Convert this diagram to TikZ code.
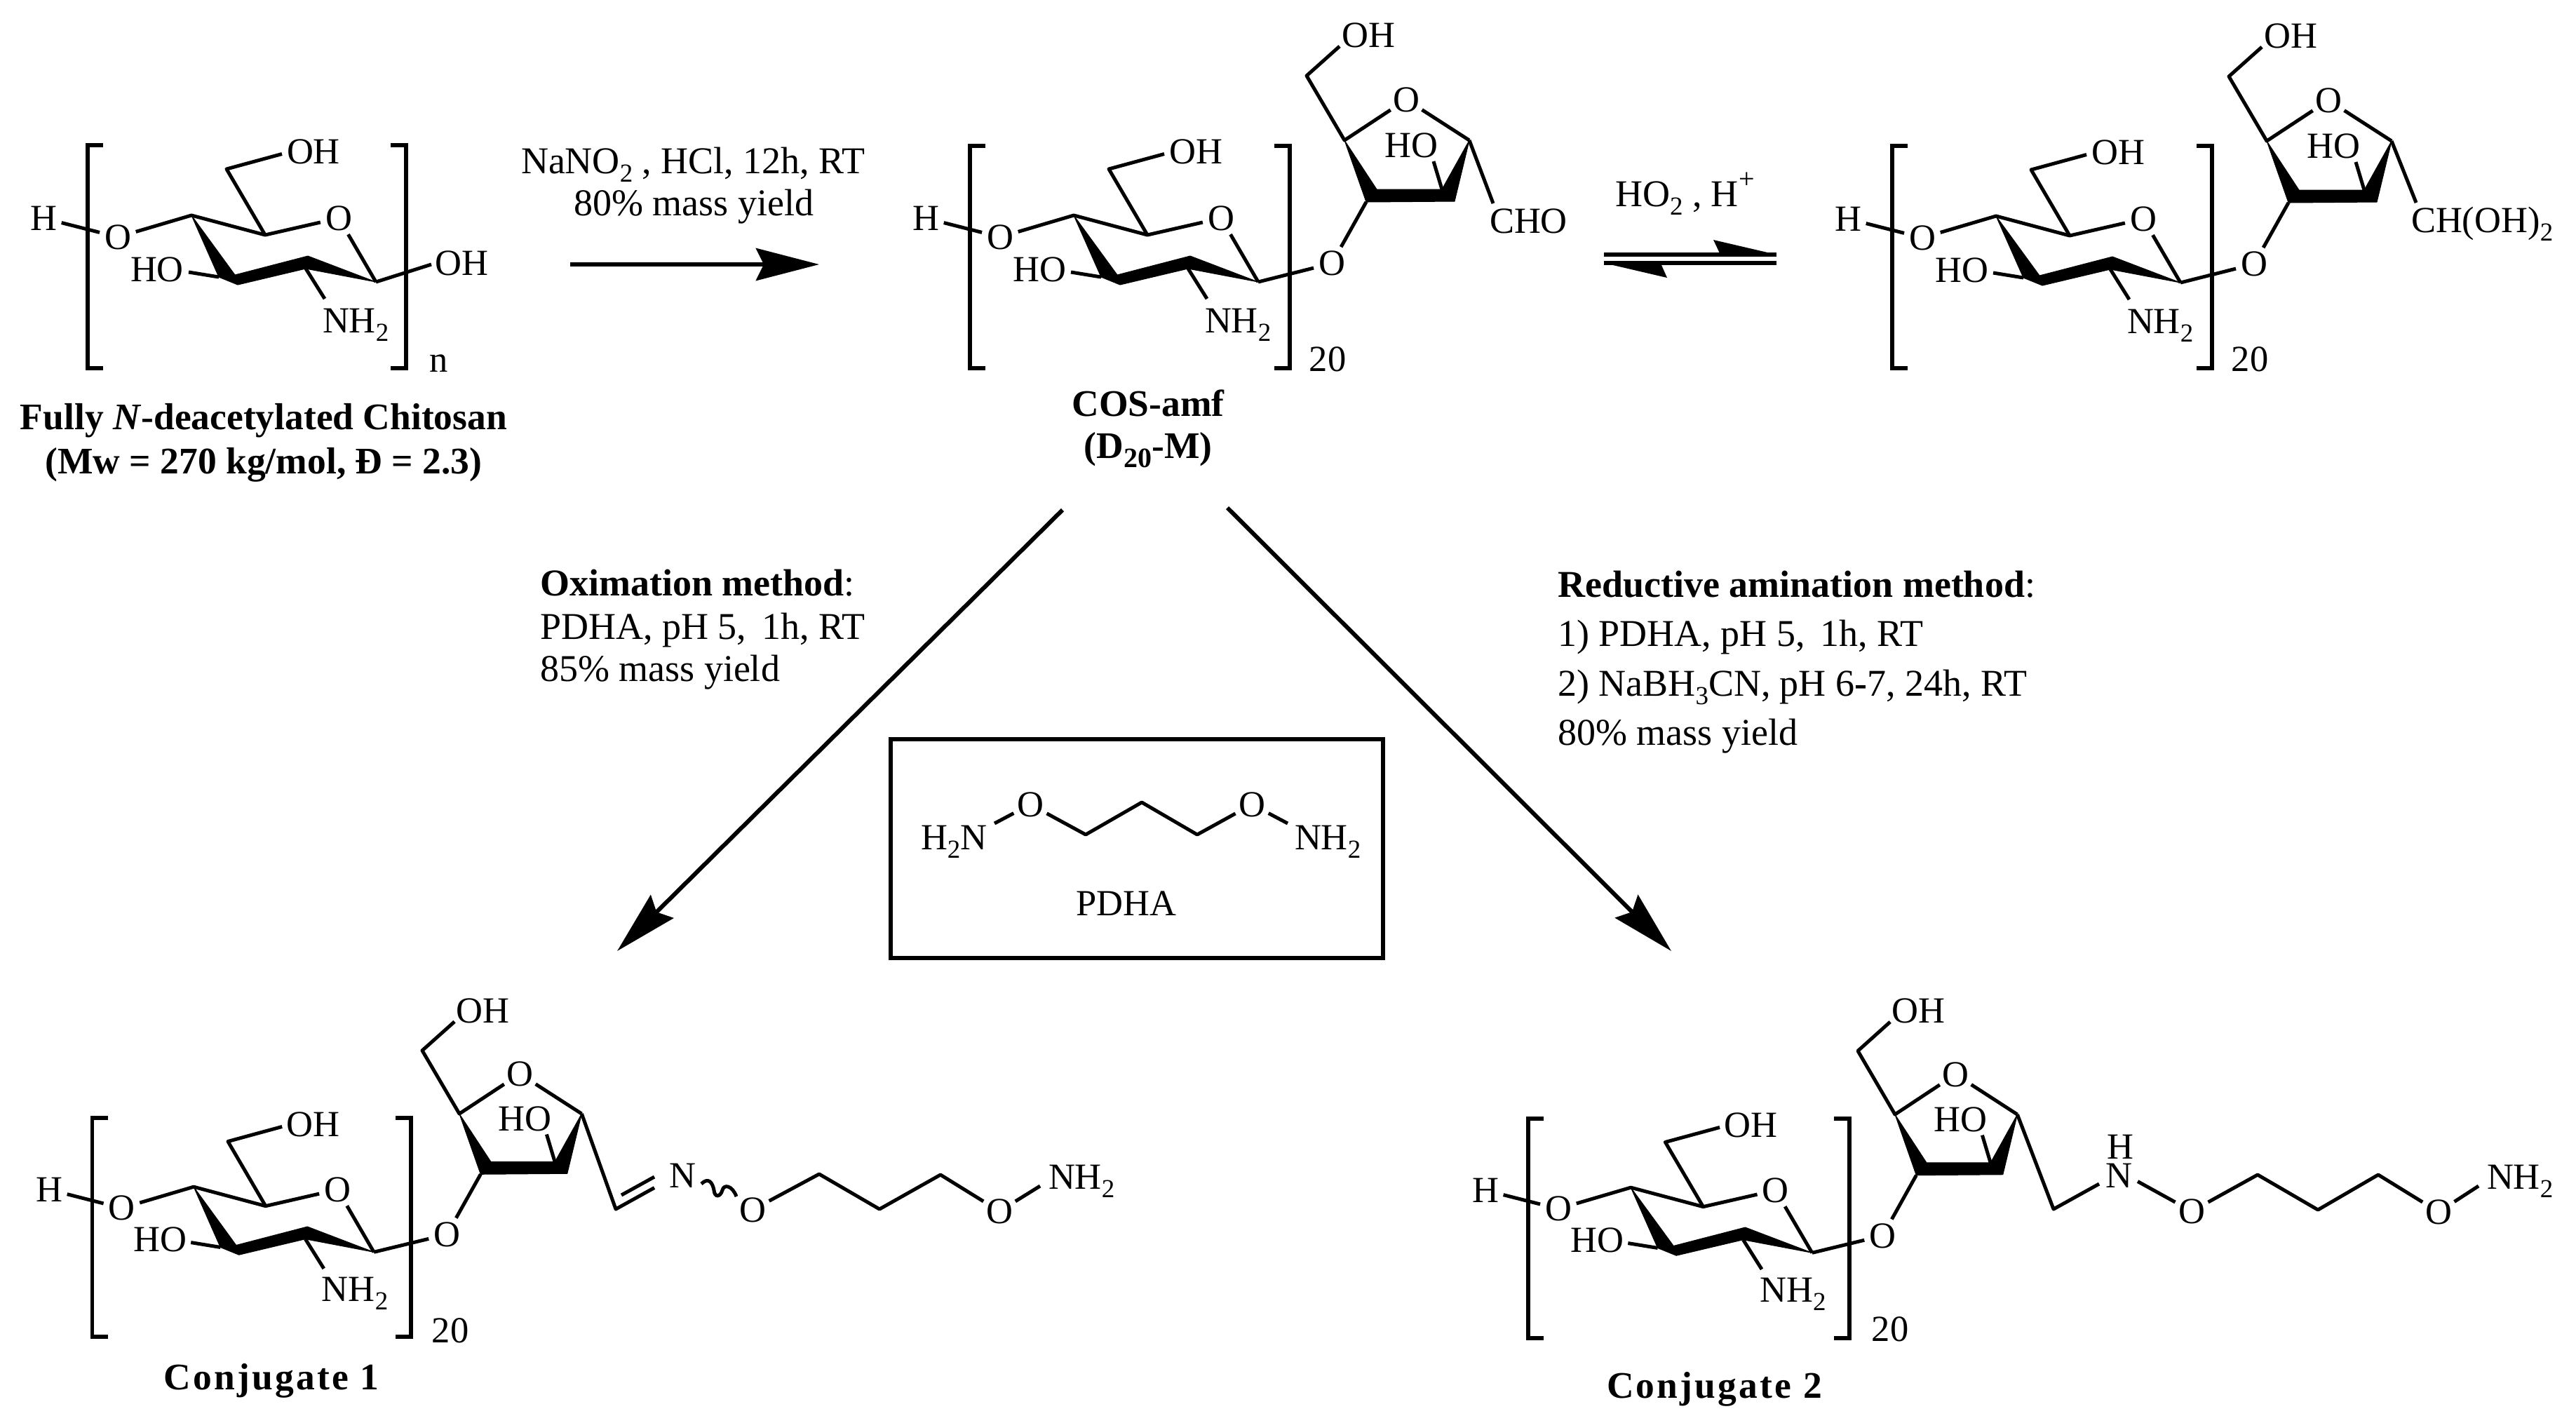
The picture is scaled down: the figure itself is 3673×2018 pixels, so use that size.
\documentclass[tikz,border=0pt]{standalone}
\usepackage{fontspec}
\setmainfont{Liberation Serif}
\usetikzlibrary{arrows.meta}
\newcommand\sbs[1]{\raisebox{-2.4pt}{\fontsize{7.4}{8}\selectfont #1}}
\newcommand\bsbs[1]{\raisebox{-2.6pt}{\fontsize{8}{9}\selectfont\bfseries #1}}
\newcommand\brk[4]{\draw[brk] (#1+22,#3) -- (#1,#3) -- (#1,#4) -- (#1+22,#4);
  \draw[brk] (#2-22,#3) -- (#2,#3) -- (#2,#4) -- (#2-22,#4);}
% repeat unit (coordinates of the top middle structure)
\newcommand\sugar{%
  \coordinate (C4) at (1531,307);
  \coordinate (C5) at (1636,335);
  \coordinate (C1) at (1794,402);
  \coordinate (C3a) at (1593,392);
  \coordinate (C3b) at (1597,406);
  \coordinate (C3c) at (1570,395);
  \coordinate (C2a) at (1697,365);
  \coordinate (C2b) at (1694,383);
  \coordinate (C6) at (1581,241);
  \coordinate (C6e) at (1660,219.5);
  \coordinate (HOe) at (1527,388);
  \coordinate (Ne) at (1721,426);
  \node[atom] (H) at (1320,311) {H};
  \node[atom] (O1) at (1426,338) {O};
  \node[atom] (Or) at (1741,311) {O};
  \node[lab] (OH6) at (1705,233.5) {OH};
  \node[lab] (HO3) at (1482,401.5) {HO};
  \node[lab,anchor=base west] (NH) at (1717,474) {NH\sbs{2}};
  \draw[bond] (H) -- (O1);
  \draw[bond] (O1) -- (C4) -- (C5) -- (Or);
  \draw[bond] (Or) -- (C1);
  \draw[bond] (C5) -- (C6) -- (C6e);
  \draw[bond] (HOe) -- (C3c);
  \draw[bond] (C2b) -- (Ne);
  \fill[wedge] (C4) -- (C3a) -- (C2a) -- (C1) -- (C2b) -- (C3b) -- (C3c) -- cycle;
}
% furanose ring with the glycosidic oxygen
\newcommand\furan{%
  \coordinate (F1) at (1917,200);
  \coordinate (F4) at (2095,200);
  \coordinate (Fa) at (1948,288);
  \coordinate (Fb) at (1963,270);
  \coordinate (Fc) at (2056,270);
  \coordinate (Fd) at (2074,287);
  \coordinate (Fm) at (1863,108);
  \coordinate (Fe) at (1910,66);
  \coordinate (Fh) at (2044,230);
  \node[atom] (FO) at (2005,142) {O};
  \node[atom] (Og) at (1899,375.5) {O};
  \node[lab] (OHf) at (1951,67.5) {OH};
  \node[lab] (HOf) at (2012,224.5) {HO};
  \draw[bond] (C1) -- (Og) -- (Fa);
  \draw[bond] (Fe) -- (Fm) -- (F1) -- (FO) -- (F4);
  \draw[bond] (Fh) -- (Fc);
  \fill[wedge] (F1) -- (Fb) -- (Fc) -- (F4) -- (Fd) -- (Fa) -- cycle;
}
\begin{document}
\begin{tikzpicture}[x=0.2pt,y=-0.2pt,
  bond/.style={line width=1pt,line join=round},
  brk/.style={line width=1.15pt,line join=miter},
  wedge/.style={black,draw=black,line width=0.2pt,line join=round},
  atom/.style={circle,minimum size=10pt,inner sep=0pt,font=\fontsize{10.5}{12}\selectfont},
  lab/.style={anchor=base,inner sep=0pt,font=\fontsize{10.5}{12}\selectfont},
  txt/.style={anchor=base west,inner sep=0pt,font=\fontsize{10.8}{12}\selectfont},
  capt/.style={anchor=base,inner sep=0pt,font=\fontsize{10.7}{12}\selectfont\bfseries},
  arr/.style={line width=1.2pt,-{Stealth[length=18pt,width=9.2pt,inset=2.2pt]}},
  eq/.style={line width=1.1pt}]
\useasboundingbox (0,0) rectangle (3673,2018);

% chitosan
\begin{scope}[shift={(-1258,0)},name prefix=a-]
  \sugar
  \coordinate (OHe) at (1873,377);
  \node[lab] (OHt) at (1916,392.5) {OH};
  \draw[bond] (C1) -- (OHe);
\end{scope}
\brk{125}{579}{207}{525}
\node[lab] (nn) at (626,530) {n};
\node[capt] (capa) at (376,612) {Fully \textit{N}-deacetylated Chitosan};
\node[capt] (capb) at (376,675) {(Mw = 270 kg/mol, Đ = 2.3)};

% COS-amf
\begin{scope}[name prefix=b-]
  \sugar
  \furan
  \coordinate (Ce) at (2129,290);
  \draw[bond] (F4) -- (Ce);
  \node[lab,anchor=base west] (CHO) at (2123,332) {CHO};
\end{scope}
\brk{1383}{1839}{208}{525}
\node[lab] (n20b) at (1893,529) {20};
\node[capt] (capc) at (1637,593) {COS-amf};
\node[capt] (capd) at (1637,653) {(D\bsbs{20}-M)};

% hydrate
\begin{scope}[shift={(1315,1)},name prefix=c-]
  \sugar
  \furan
  \coordinate (Ce) at (3445-1315,288);
  \draw[bond] (F4) -- (Ce);
  \node[lab,anchor=base west] (CHOH) at (3437-1315,330) {CH(OH)\sbs{2}};
\end{scope}
\brk{2698}{3154}{208}{525}
\node[lab] (n20c) at (3208,529) {20};

% conjugate 1
\begin{scope}[shift={(-1219.6,1391.3)},xscale=.977,yscale=.98,name prefix=d-]
  \sugar
\end{scope}
\begin{scope}[shift={(-1223.7,1392)},xscale=.98,yscale=.98,name prefix=d-]
  \furan
\end{scope}
\brk{131.5}{586}{1594}{1906}
\node[lab] (n20d) at (642,1914) {20};
\node[capt] (cape) at (387,1981) {\addfontfeature{LetterSpace=6}Conjugate 1};
\coordinate (k1) at (878,1724);
\coordinate (k2) at (933,1693.5);
\coordinate (k3) at (886,1704);
\coordinate (k4) at (933,1678);
\node[lab] (Nd) at (973,1693.5) {N};
\node[atom] (Od1) at (1073,1725) {O};
\coordinate (d1) at (1168,1674);
\coordinate (d2) at (1254,1724);
\coordinate (d3) at (1341,1675);
\node[atom] (Od2) at (1425,1727) {O};
\coordinate (de) at (1483,1691);
\node[lab,anchor=base west] (NHd) at (1494,1695.5) {NH\sbs{2}};
\draw[bond] (d-F4) -- (k1) -- (k2);
\draw[bond] (k3) -- (k4);
\coordinate (w1) at (1000,1688);
\coordinate (w2) at (1050,1706);
\draw[line width=1pt] (w1) .. controls (1010,1678) and (1016,1686) .. (1018,1697) .. controls (1019,1708) and (1027,1707) .. (1030,1697) .. controls (1032,1688) and (1044,1690) .. (w2);
\draw[bond] (Od1) -- (d1) -- (d2) -- (d3) -- (Od2) -- (de);

% conjugate 2
\begin{scope}[shift={(820.4,1392.3)},xscale=.983,yscale=.98,name prefix=e-]
  \sugar
\end{scope}
\begin{scope}[shift={(823.3,1392)},xscale=.98,yscale=.985,name prefix=e-]
  \furan
\end{scope}
\brk{2179}{2637}{1595}{1908}
\node[lab] (n20e) at (2695,1912) {20};
\node[capt] (capf) at (2444.5,1993) {\addfontfeature{LetterSpace=6}Conjugate 2};
\coordinate (m1) at (2928,1724);
\coordinate (Na) at (2993,1688);
\coordinate (Nb) at (3048,1684.5);
\node[lab] (Ne1) at (3021,1693.5) {N};
\node[lab] (Hne) at (3023,1652) {H};
\node[atom] (Oe1) at (3125,1727) {O};
\coordinate (e1) at (3219,1675);
\coordinate (e2) at (3305,1725);
\coordinate (e3) at (3391,1675);
\node[atom] (Oe2) at (3477,1728) {O};
\coordinate (ee) at (3534,1691);
\node[lab,anchor=base west] (NHe) at (3545,1695.5) {NH\sbs{2}};
\draw[bond] (e-F4) -- (m1) -- (Na);
\draw[bond] (Nb) -- (Oe1) -- (e1) -- (e2) -- (e3) -- (Oe2) -- (ee);

% reaction arrows and conditions
\node[txt] (t1) at (742,247) {NaNO\sbs{2} , HCl, 12h, RT};
\node[txt,anchor=base] (t2) at (989,307) {80\% mass yield};
\coordinate (a1) at (813,377);
\coordinate (a2) at (1168,377);
\draw[arr] (a1) -- (a2);

\node[txt] (t3) at (2302,294) {HO\sbs{2} , H\raisebox{5.2pt}{\fontsize{8}{9}\selectfont +}};
\coordinate (q1) at (2287,363);
\coordinate (q2) at (2533,363);
\coordinate (q3) at (2443,342);
\coordinate (q4) at (2452,361);
\coordinate (q5) at (2533,375);
\coordinate (q6) at (2287,375);
\coordinate (q7) at (2377,396);
\coordinate (q8) at (2369,378);
\draw[eq] (q1) -- (q2);
\fill (q2) -- (q3) -- (q4) -- cycle;
\draw[eq] (q5) -- (q6);
\fill (q6) -- (q7) -- (q8) -- cycle;

\coordinate (s1) at (1515,727);
\coordinate (s2) at (880,1356);
\draw[arr] (s1) -- (s2);
\coordinate (r1) at (1750,724);
\coordinate (r2) at (2383,1356);
\draw[arr] (r1) -- (r2);

\node[txt] (o1) at (769,849) {\textbf{Oximation method}:};
\node[txt] (o2) at (769,911) {PDHA, pH 5,\, 1h, RT};
\node[txt] (o3) at (769,971.5) {85\% mass yield};

\node[txt] (p1) at (2220,851) {\textbf{Reductive amination method}:};
\node[txt] (p2) at (2220,921) {1) PDHA, pH 5,\, 1h, RT};
\node[txt] (p3) at (2220,992) {2) NaBH\sbs{3}CN, pH 6\textbf{-}7, 24h, RT};
\node[txt] (p4) at (2220,1062) {80\% mass yield};

% PDHA box
\node[draw,line width=1.2pt,minimum width=140.4pt,minimum height=62.4pt,inner sep=0pt,anchor=north west] (box) at (1267,1051) {};
\node[lab,anchor=base west] (H2N) at (1312,1211) {H\sbs{2}N};
\node[atom] (P1) at (1469,1147) {O};
\node[atom] (P2) at (1785,1147) {O};
\coordinate (pn1) at (1418,1174);
\coordinate (pc1) at (1548,1190);
\coordinate (pc2) at (1628,1144);
\coordinate (pc3) at (1707,1190);
\coordinate (pn2) at (1836,1174);
\node[lab,anchor=base west] (NHp) at (1845,1211) {NH\sbs{2}};
\node[lab] (pdha) at (1606,1305) {PDHA};
\draw[bond] (pn1) -- (P1) -- (pc1) -- (pc2) -- (pc3) -- (P2) -- (pn2);
\end{tikzpicture}
\end{document}
